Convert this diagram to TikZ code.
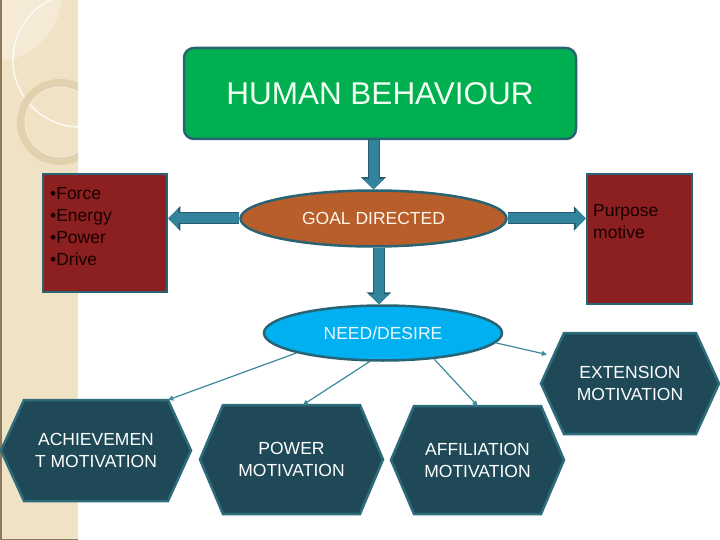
\documentclass[tikz,border=0pt]{standalone}
\usepackage{fontspec}
\setmainfont{Liberation Sans}
\usetikzlibrary{arrows.meta,shapes.geometric,calc}
\definecolor{strip}{RGB}{240,226,196}
\definecolor{stripedge}{RGB}{140,120,90}
\definecolor{ringc}{RGB}{226,209,175}
\definecolor{greenb}{RGB}{0,176,80}
\definecolor{edge}{RGB}{40,100,115}
\definecolor{redb}{RGB}{140,31,31}
\definecolor{goalc}{RGB}{183,94,43}
\definecolor{needc}{RGB}{0,176,240}
\definecolor{arrowc}{RGB}{49,132,155}
\definecolor{arrowedge}{RGB}{38,90,108}
\definecolor{hexc}{RGB}{31,73,87}
\definecolor{hexedge}{RGB}{46,108,124}
\definecolor{thinc}{RGB}{58,138,155}
\pgfdeclarelayer{bg}
\pgfsetlayers{bg,main}
\newcommand\myhex[8]{% name, cx, cy, hw, hh, inner w, inner h, text
  \draw[hexline] ({#2-#4},#3) -- ({#2-#4+23},{#3-#5}) -- ({#2+#4-23},{#3-#5}) -- ({#2+#4},#3) -- ({#2+#4-23},{#3+#5}) -- ({#2-#4+23},{#3+#5}) -- cycle;
  \node[hextext, minimum width=#6pt, minimum height=#7pt] (#1) at (#2,#3) {#8};
}
\begin{document}
\begin{tikzpicture}[x=1pt,y=-1pt,
  box/.style={draw=edge, line width=2.5pt, inner sep=0pt},
  smalltext/.style={font=\fontsize{17.5}{22}\selectfont},
  blockarrow/.style={line width=10pt, draw=arrowc, -{Triangle[width=20pt,length=10pt]},
    preaction={draw=arrowedge, line width=12pt, -{Triangle[width=24pt,length=12pt]}}},
  thinarrow/.style={draw=thinc, line width=1.2pt, -{Triangle[width=5pt,length=5pt]}},
  hexline/.style={draw=hexedge, fill=hexc, line width=2.5pt, line join=miter},
  hextext/.style={smalltext, text=white, align=center, inner sep=0pt}
]
\useasboundingbox (0,0) rectangle (720,540);
% decorative strip
\fill[strip] (0,0) rectangle (78,540);
\begin{scope}
  \clip (0,0) rectangle (78,540);
  \fill[white, opacity=0.3] (-8,-8) circle (70);
  \draw[white, opacity=0.8, line width=1.5pt] (80,60) circle (67);
  \draw[ringc, line width=8pt] (60,122) circle (39);
  \draw[white, opacity=0.5, line width=0.8pt] (60,122) circle (35);
\end{scope}
\draw[stripedge, line width=1.5pt] (0.75,0) -- (0.75,540);
\draw[stripedge, line width=1.5pt] (0,539.25) -- (78,539.25);

% main nodes
\node[box, fill=greenb, rounded corners=10pt, minimum width=392pt, minimum height=91pt,
      text=white!95!green, font=\fontsize{31.5}{36}\selectfont] (hb) at (380,93.5) {HUMAN BEHAVIOUR};
\node[ellipse, box, fill=goalc, minimum width=266pt, minimum height=56pt,
      text=white!92!orange, smalltext] (goal) at (373.5,218.5) {GOAL DIRECTED};
\node[ellipse, box, fill=needc, minimum width=238pt, minimum height=55pt,
      text=white!92!cyan, smalltext] (need) at (383,333) {NEED/DESIRE};
\node[box, fill=redb, minimum width=124pt, minimum height=118pt] (lbox) at (105,233) {};
\node[smalltext, anchor=west, align=left, inner sep=0pt, text=black!90!red] (ltext) at (50,226.5)
  {\textbullet Force\\\textbullet Energy\\\textbullet Power\\\textbullet Drive};
\node[box, fill=redb, minimum width=105pt, minimum height=130pt] (rbox) at (639.5,239) {};
\node[smalltext, anchor=west, align=left, inner sep=0pt, text=black!90!red] (rtext) at (593,222)
  {Purpose\\motive};

% hexagons
\myhex{ach}{96}{450.5}{95}{50.5}{144}{101}{ACHIEVEMEN\\T MOTIVATION}
\myhex{pow}{291.5}{459.5}{91.5}{54.5}{137}{109}{POWER\\MOTIVATION}
\myhex{aff}{477.5}{460}{86.5}{54}{127}{108}{AFFILIATION\\MOTIVATION}
\myhex{ext}{630}{383.5}{89}{50.5}{132}{101}{EXTENSION\\MOTIVATION}

% block arrows
\begin{pgfonlayer}{bg}
\draw[blockarrow] (hb.south -| goal.north) -- (goal.north);
\draw[blockarrow] ([xshift=5.5pt]goal.south) -- ([xshift=5.5pt]goal.south |- need.north);
\draw[blockarrow] (goal.west) -- (goal.west -| lbox.east);
\draw[blockarrow] (goal.east) -- (goal.east -| rbox.west);
\end{pgfonlayer}

% thin arrows
\draw[thinarrow] (need.193) -- (ach.north east);
\draw[thinarrow] (need.245) -- ([xshift=11.5pt]pow.north);
\draw[thinarrow] (need.333) -- (aff.north);
\draw[thinarrow] (need.355) -- ([xshift=-17pt,yshift=29pt]ext.west);
\end{tikzpicture}
\end{document}
